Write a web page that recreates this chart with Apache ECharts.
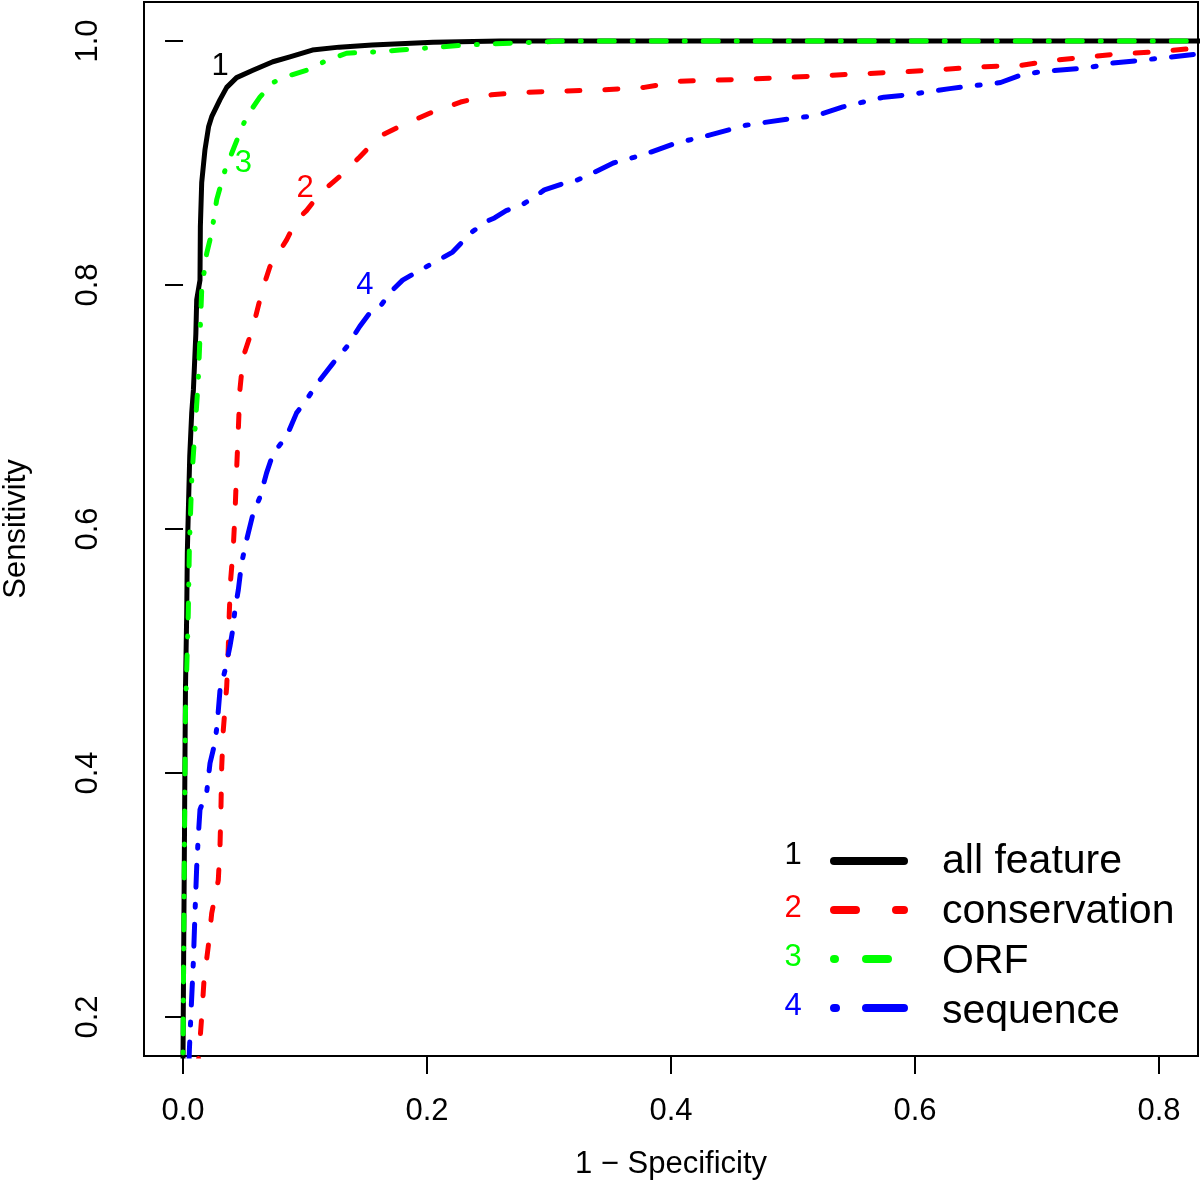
<!DOCTYPE html>
<html>
<head>
<meta charset="utf-8">
<script src="https://cdn.jsdelivr.net/npm/echarts@6/dist/echarts.min.js"></script>
<style>
html,body{margin:0;padding:0;background:#fff;}
#chart{width:1200px;height:1180px;}
</style>
</head>
<body>
<div id="chart"></div>
<script>
// ---- data ----
const seriesNames = ['all feature', 'conservation', 'ORF', 'sequence'];
const seriesNumbers = ['1', '2', '3', '4'];
const seriesColors = ['#000000', '#ff0000', '#00ff00', '#0000ff'];

const xTicks = [0.0, 0.2, 0.4, 0.6, 0.8];
const yTicks = [0.2, 0.4, 0.6, 0.8, 1.0];

// [1 - specificity, sensitivity]
const allFeature = [[0,0],[0,0.17],[0.0005,0.25],[0.001,0.32],[0.0015,0.40],[0.002,0.47],[0.003,0.53],[0.0035,0.58],[0.0043,0.613],[0.0055,0.66],[0.0071,0.695],[0.0085,0.714],[0.0105,0.76],[0.0112,0.788],[0.0139,0.804],[0.0142,0.848],[0.0153,0.884],[0.018,0.911],[0.021,0.93],[0.0235,0.938],[0.0303,0.952],[0.0358,0.962],[0.0439,0.970],[0.0573,0.976],[0.0736,0.983],[0.0876,0.987],[0.106,0.9926],[0.128,0.995],[0.155,0.9967],[0.205,0.999],[0.26,1],[1,1]];
const conservation = [[0,0],[0.0133,0.173],[0.0153,0.200],[0.0172,0.230],[0.0207,0.258],[0.0235,0.285],[0.0289,0.312],[0.0303,0.340],[0.0311,0.372],[0.0317,0.405],[0.033,0.435],[0.0358,0.471],[0.0371,0.503],[0.0379,0.531],[0.039,0.558],[0.0412,0.585],[0.0426,0.613],[0.0439,0.648],[0.0453,0.681],[0.0466,0.714],[0.0493,0.741],[0.0575,0.766],[0.063,0.788],[0.0657,0.798],[0.0712,0.815],[0.0849,0.837],[0.093,0.853],[0.1012,0.861],[0.1121,0.875],[0.1285,0.889],[0.1448,0.905],[0.1612,0.922],[0.1776,0.930],[0.2026,0.941],[0.2275,0.950],[0.2529,0.956],[0.282,0.958],[0.3445,0.960],[0.378,0.962],[0.4072,0.967],[0.4697,0.969],[0.5325,0.972],[0.5949,0.975],[0.6577,0.979],[0.6866,0.980],[0.712,0.984],[0.7619,0.989],[0.7954,0.991],[0.829,0.994],[1,1]];
const orf = [[0,0],[0,0.17],[0.0005,0.25],[0.0012,0.35],[0.002,0.45],[0.003,0.484],[0.0043,0.531],[0.0052,0.585],[0.0071,0.64],[0.0098,0.681],[0.0125,0.722],[0.0139,0.758],[0.0153,0.796],[0.0194,0.826],[0.0235,0.843],[0.0276,0.870],[0.0344,0.894],[0.0399,0.908],[0.0466,0.925],[0.0521,0.938],[0.063,0.954],[0.0737,0.966],[0.0849,0.971],[0.1012,0.976],[0.1176,0.984],[0.134,0.990],[0.155,0.991],[0.1776,0.9926],[0.196,0.994],[0.2316,0.9967],[0.277,0.9986],[0.31,1],[1,1]];
const sequence = [[0,0],[0.0052,0.173],[0.0065,0.203],[0.0084,0.244],[0.0098,0.285],[0.0112,0.323],[0.0125,0.348],[0.0139,0.370],[0.0194,0.384],[0.0221,0.408],[0.0262,0.425],[0.0281,0.441],[0.0303,0.468],[0.0344,0.484],[0.0385,0.504],[0.0407,0.517],[0.0426,0.534],[0.0453,0.550],[0.048,0.572],[0.0521,0.591],[0.0575,0.613],[0.063,0.626],[0.0685,0.646],[0.0739,0.662],[0.0849,0.676],[0.093,0.695],[0.1012,0.706],[0.1121,0.722],[0.123,0.736],[0.134,0.749],[0.1448,0.766],[0.153,0.777],[0.1612,0.782],[0.1718,0.796],[0.18,0.804],[0.194,0.812],[0.2087,0.820],[0.221,0.827],[0.2267,0.833],[0.2349,0.842],[0.2485,0.852],[0.2553,0.855],[0.2649,0.861],[0.2782,0.866],[0.2864,0.871],[0.2962,0.878],[0.311,0.883],[0.3208,0.885],[0.3363,0.892],[0.3527,0.900],[0.378,0.907],[0.403,0.916],[0.428,0.922],[0.4615,0.931],[0.4951,0.936],[0.5196,0.939],[0.5409,0.946],[0.5745,0.954],[0.5949,0.956],[0.6285,0.961],[0.6702,0.966],[0.6866,0.972],[0.7038,0.975],[0.7414,0.978],[0.7619,0.982],[0.7831,0.984],[0.829,0.989],[1,1]];

// curve annotation positions (data coordinates)
const curveLabelPos = [[0.0303, 0.9795], [0.100, 0.8795], [0.0495, 0.900], [0.149, 0.800]];

const seriesData = [allFeature, conservation, orf, sequence];

// ---- styles ----
const FONT = 'Liberation Sans, Arial, Helvetica, sans-serif';
const plotDash = [null, [13, 25], [1, 18, 15, 18], [3, 17, 22, 17]];
const legendDash = [null, [22, 40], [1, 31, 22, 31], [2, 30, 39, 30]];
const legendNumberY = [855, 908, 957, 1006];
const legendRowY = [861, 910, 959, 1008];

const chart = echarts.init(document.getElementById('chart'), null, {renderer: 'canvas'});

const series = seriesNames.map((name, i) => ({
  name: name,
  type: 'line',
  data: seriesData[i],
  symbol: 'none',
  showSymbol: false,
  smooth: false,
  clip: true,
  animation: false,
  z: 2 + i,
  lineStyle: {color: seriesColors[i], width: 5, type: plotDash[i] || 'solid', cap: 'round', join: 'round'},
  itemStyle: {color: seriesColors[i]},
  emphasis: {disabled: true},
  markPoint: {
    symbol: 'circle',
    symbolSize: 0,
    animation: false,
    label: {show: true, position: 'inside', formatter: seriesNumbers[i], color: seriesColors[i], fontSize: 31, fontFamily: FONT},
    data: [{coord: curveLabelPos[i], value: seriesNumbers[i]}]
  }
}));

// legend keys: numbers and line samples
const legendGraphics = [];
seriesNumbers.forEach((t, i) => {
  legendGraphics.push({
    type: 'text', x: 793, y: legendNumberY[i], silent: true, z: 100,
    style: {text: t, fill: seriesColors[i], fontSize: 31, fontFamily: FONT, align: 'center', verticalAlign: 'middle'}
  });
  const ls = {stroke: seriesColors[i], lineWidth: 8, lineCap: 'round'};
  if (legendDash[i]) ls.lineDash = legendDash[i];
  legendGraphics.push({
    type: 'line', silent: true, z: 100,
    shape: {x1: 834, y1: legendRowY[i], x2: 904, y2: legendRowY[i]},
    style: ls
  });
});

const option = {
  backgroundColor: '#ffffff',
  animation: false,
  grid: {left: 144, right: 2, top: 2, bottom: 124, show: true, borderColor: '#000', borderWidth: 2, backgroundColor: 'transparent', containLabel: false, outerBoundsMode: 'none'},
  xAxis: {
    type: 'value', min: -0.032, max: 0.832,
    name: '1 \u2212 Specificity', nameLocation: 'middle', nameGap: 93,
    nameTextStyle: {fontSize: 31, fontFamily: FONT, color: '#000'},
    axisLine: {show: false},
    splitLine: {show: false},
    axisTick: {show: true, inside: false, length: 18, lineStyle: {color: '#000', width: 2}, customValues: xTicks},
    axisLabel: {show: true, customValues: xTicks, margin: 40, fontSize: 31, fontFamily: FONT, color: '#000', formatter: v => v.toFixed(1)}
  },
  yAxis: {
    type: 'value', min: 0.168, max: 1.032,
    name: 'Sensitivity', nameLocation: 'middle', nameGap: 112,
    nameTextStyle: {fontSize: 31, fontFamily: FONT, color: '#000'},
    axisLine: {show: false},
    splitLine: {show: false},
    axisTick: {show: true, inside: false, length: 18, lineStyle: {color: '#000', width: 2}, customValues: yTicks},
    axisLabel: {show: true, customValues: yTicks, rotate: 90, margin: 40, fontSize: 31, fontFamily: FONT, color: '#000', formatter: v => v.toFixed(1)}
  },
  legend: {
    show: true, orient: 'vertical', left: 834, top: 841, padding: 0,
    itemWidth: 70, itemHeight: 40, itemGap: 9,
    selectedMode: false,
    icon: 'rect',
    itemStyle: {opacity: 0, borderWidth: 0},
    textStyle: {fontSize: 41, fontFamily: FONT, color: '#000', padding: [0, 0, 0, 33]},
    data: seriesNames.map(n => ({name: n, icon: 'rect', itemStyle: {opacity: 0, color: 'rgba(0,0,0,0)', borderWidth: 0}}))
  },
  graphic: legendGraphics,
  series: series
};

chart.setOption(option);
</script>
</body>
</html>
